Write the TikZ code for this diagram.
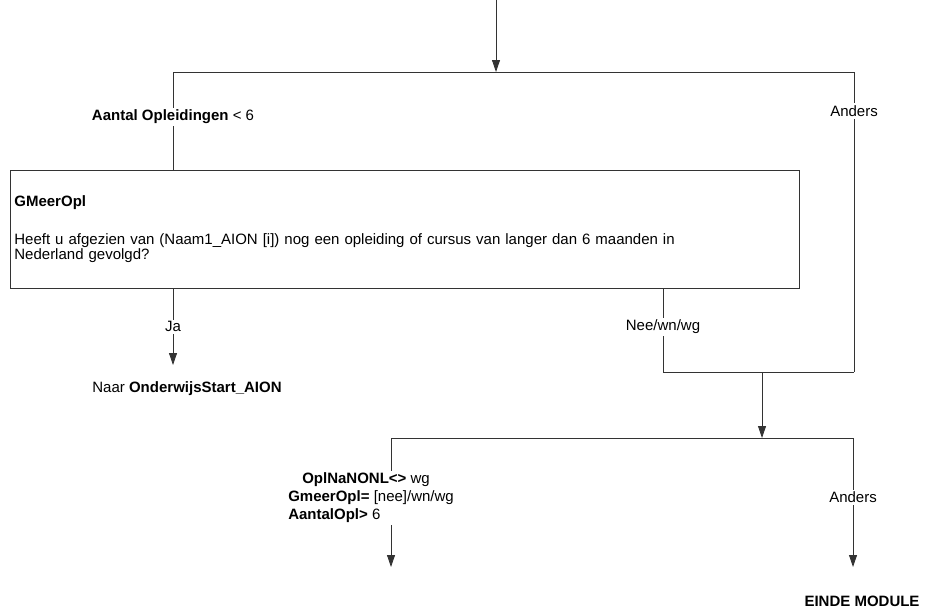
\documentclass[tikz,border=0pt]{standalone}
\usepackage{fontspec}
\setmainfont{Liberation Sans}
\usetikzlibrary{positioning,arrows.meta,calc}

\begin{document}
\begin{tikzpicture}[
  x=1pt, y=-1pt,
  every node/.style={font=\fontsize{15}{13}\selectfont},
  flow/.style={line width=0.8pt, draw=black!80},
  arr/.style={flow, -{Triangle[length=12pt,width=8pt]}},
  lab/.style={fill=white, inner sep=2pt},
  qbox/.style={draw=black!80, line width=0.8pt, anchor=north west, minimum width=789pt, minimum height=118pt, text width=781pt, align=left, inner xsep=4pt}
]
  \useasboundingbox (0,0) rectangle (925,608);

  % first split
  \coordinate (in) at (496,0);
  \coordinate (s1) at (496,72);
  \coordinate (s1l) at (173,72);
  \coordinate (s1r) at (854,72);

  \node[qbox] (gmeer) at (10,170) {\textbf{GMeerOpl}\\[23pt]
    Heeft u afgezien van (Naam1\_AION [i]) nog een opleiding of cursus van langer dan 6 maanden in\\
    Nederland gevolgd?\\[3pt]};

  \coordinate (ja) at (173,365);
  \node[anchor=base] (naar) at (187,392) {Naar \textbf{OnderwijsStart\_AION}};

  % merge of Nee/wn/wg and Anders
  \coordinate (nee) at (663,372);
  \coordinate (m1) at (762,372);
  \coordinate (m1r) at (854,372);

  % second split
  \coordinate (s2) at (762,438);
  \coordinate (s2l) at (391,438);
  \coordinate (s2r) at (853,438);
  \coordinate (out) at (391,567);
  \node[anchor=base, inner sep=1pt] (einde) at (862,606) {\textbf{EINDE MODULE}};

  \draw[arr] (in) -- (s1);
  \draw[flow] (s1l) -- (s1r);
  \draw[flow] (s1l) -- node[lab, pos=0.46] {\textbf{Aantal Opleidingen} {<} 6} (s1l |- gmeer.north);
  \draw[flow] (s1r) -- node[lab, pos=0.13] {Anders} (m1r);

  \draw[arr] (s1l |- gmeer.south) -- node[lab, pos=0.5] {Ja} (ja);
  \draw[flow] (nee |- gmeer.south) -- node[lab, pos=0.46] {Nee/wn/wg} (nee) -- (m1r);

  \draw[arr] (m1) -- (s2);
  \draw[flow] (s2l) -- (s2r);
  \draw[arr] (s2l) -- (out);
  \node[lab, align=left, anchor=east, font=\fontsize{15}{18}\selectfont] (cond) at (456,498)
    {\hspace*{14pt}\textbf{OplNaNONL<>} wg\\ \textbf{GmeerOpl=} [nee]/wn/wg\\ \textbf{AantalOpl>} 6};
  \draw[arr] (s2r) -- node[lab, pos=0.46] {Anders} (s2r |- 0,567);
\end{tikzpicture}
\end{document}
